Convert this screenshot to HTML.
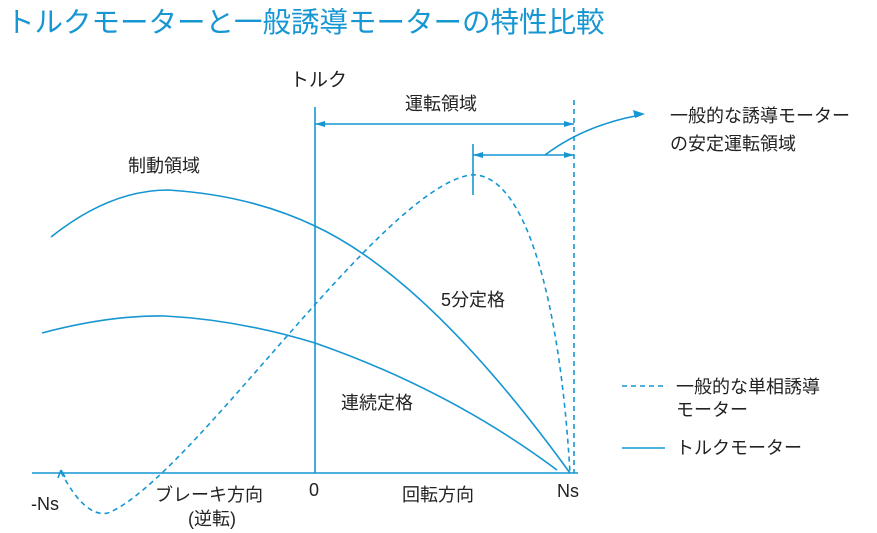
<!DOCTYPE html>
<html><head><meta charset="utf-8"><style>
html,body{margin:0;padding:0;background:#fff;}
body{width:877px;height:533px;overflow:hidden;position:relative;font-family:"Liberation Sans","Noto Sans CJK JP",sans-serif;}
.t{position:absolute;white-space:nowrap;color:#222;font-size:18px;line-height:1;}
</style></head><body>
<div class="t" style="left:6px;top:9px;font-size:28.5px;color:#1696d2;">トルクモーターと一般誘導モーターの特性比較</div>
<svg width="877" height="533" style="position:absolute;left:0;top:0" fill="none" stroke="#1696d2" stroke-width="1.6">
<line x1="32" y1="473" x2="578" y2="473"/>
<line x1="315" y1="107" x2="315" y2="473"/>
<line x1="574" y1="100" x2="574" y2="473" stroke-dasharray="5,4"/>
<line x1="315" y1="124" x2="574" y2="124"/>
<path d="M315 124 l10 -3 v6z M574 124 l-10 -3 v6z" fill="#1696d2" stroke="none"/>
<line x1="473" y1="155" x2="574" y2="155"/>
<line x1="473" y1="144" x2="473" y2="195"/>
<path d="M473 155 l10 -3 v6z M574 155 l-10 -3 v6z" fill="#1696d2" stroke="none"/>
<path d="M545 155 Q585 125 640 115"/>
<path d="M645 114 l-12 -4 l2 8z" fill="#1696d2" stroke="none"/>
<path d="M51 237 Q110 190 168 190 Q250 195 315 226 Q430 280 570 473"/>
<path d="M42 333 Q110 315 165 316 Q240 320 315 343 Q450 390 557 470"/>
<path d="M61 472 Q85 518 108 513 C190 480 380 190 470 175 C525 170 560 300 570 473" stroke-dasharray="5,4"/>
<path d="M61 470 l-3 8 M61 470 l4 7"/>
<line x1="622" y1="386" x2="665" y2="386" stroke-dasharray="5,4"/>
<line x1="622" y1="448" x2="665" y2="448"/>
</svg>
<div class="t" style="left:290px;top:71px;font-size:19px;">トルク</div>
<div class="t" style="left:405px;top:95px;">運転領域</div>
<div class="t" style="left:128px;top:157px;">制動領域</div>
<div class="t" style="left:441px;top:291px;">5分定格</div>
<div class="t" style="left:341px;top:394px;">連続定格</div>
<div class="t" style="left:670px;top:107px;">一般的な誘導モーター</div>
<div class="t" style="left:670px;top:135px;">の安定運転領域</div>
<div class="t" style="left:676px;top:378px;">一般的な単相誘導</div>
<div class="t" style="left:676px;top:401px;">モーター</div>
<div class="t" style="left:676px;top:439px;">トルクモーター</div>
<div class="t" style="left:31px;top:495px;">-Ns</div>
<div class="t" style="left:155px;top:486px;">ブレーキ方向</div>
<div class="t" style="left:188px;top:510px;">(逆転)</div>
<div class="t" style="left:309px;top:481px;">0</div>
<div class="t" style="left:402px;top:486px;">回転方向</div>
<div class="t" style="left:557px;top:482px;">Ns</div>
</body></html>
